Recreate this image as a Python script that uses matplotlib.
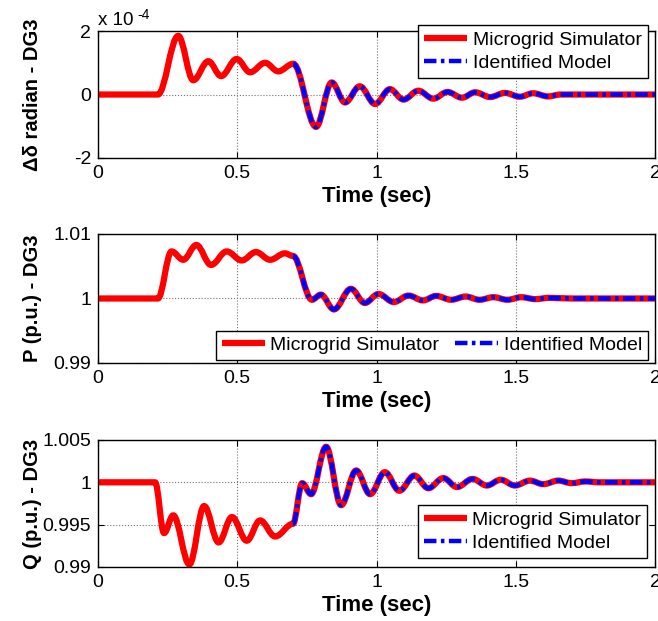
import matplotlib
matplotlib.use("Agg")
import matplotlib.pyplot as plt
from matplotlib.path import Path
from matplotlib.patches import PathPatch
from matplotlib.lines import Line2D
from matplotlib.ticker import FormatStrFormatter

plt.rcParams['font.family'] = ['Liberation Sans', 'DejaVu Sans']
plt.rcParams['axes.unicode_minus'] = False

# turning points of each response (time in s); curves pass through them with flat tangents
t_delta = [0, 0.215, 0.288, 0.342, 0.396, 0.442, 0.498, 0.546, 0.600, 0.647, 0.701,
           0.783, 0.839, 0.887, 0.940, 0.995, 1.048, 1.097, 1.150, 1.204, 1.255,
           1.307, 1.354, 1.408, 1.461, 1.515, 1.562, 1.616, 1.660, 2.0]
delta_e4 = [0, 0, 1.85, 0.45, 1.05, 0.58, 1.12, 0.70, 1.00, 0.73, 0.97,
            -1.02, 0.38, -0.25, 0.26, -0.30, 0.17, -0.16, 0.12, -0.13, 0.08,
            -0.10, 0.07, -0.08, 0.05, -0.07, 0.04, -0.06, 0, 0]

t_p = [0, 0.215, 0.264, 0.306, 0.353, 0.406, 0.462, 0.516, 0.567, 0.618, 0.671, 0.700,
       0.768, 0.800, 0.847, 0.908, 0.958, 1.007, 1.062, 1.115, 1.167, 1.214, 1.268,
       1.320, 1.370, 1.420, 1.470, 1.520, 1.570, 1.620, 1.700, 2.0]
p_pu = [1.0, 1.0, 1.0073, 1.0060, 1.0083, 1.0052, 1.0073, 1.0059, 1.0072, 1.0060, 1.0070, 1.0066,
        0.9998, 1.0006, 0.9983, 1.0015, 0.9993, 1.0007, 0.99945, 1.00045, 0.9997, 1.0004, 0.9998,
        1.0003, 0.9998, 1.0002, 0.9998, 1.0002, 0.9999, 1.0001, 1.0, 1.0]

t_q = [0, 0.205, 0.237, 0.270, 0.328, 0.381, 0.433, 0.481, 0.534, 0.582, 0.636, 0.700,
       0.733, 0.765, 0.819, 0.873, 0.927, 0.977, 1.030, 1.082, 1.136, 1.186, 1.240,
       1.289, 1.345, 1.396, 1.446, 1.497, 1.551, 1.599, 1.653, 1.700, 1.750, 1.800, 2.0]
q_pu = [1.0, 1.0, 0.9940, 0.9961, 0.9903, 0.9972, 0.9929, 0.9959, 0.9931, 0.9955, 0.9936, 0.9951,
        0.9999, 0.9986, 1.0042, 0.9973, 1.0014, 0.9986, 1.0012, 0.9990, 1.0008, 0.9993, 1.0005,
        0.99944, 1.0004, 0.99962, 1.0003, 0.99962, 1.0002, 0.99978, 1.0002, 0.9999, 1.0001, 1.0, 1.0]

model_start = 0.70  # identified model is fitted from here on

x_ticks = [0, 0.5, 1, 1.5, 2]
panels = [
    (t_delta, delta_e4, 'Δδ radian - DG3', (-2, 2), [-2, 0, 2]),
    (t_p, p_pu, 'P (p.u.) - DG3', (0.99, 1.01), [0.99, 1, 1.01]),
    (t_q, q_pu, 'Q (p.u.) - DG3', (0.99, 1.005), [0.99, 0.995, 1, 1.005]),
]
axes_rects = [
    [0.149, 0.7456, 0.8464, 0.2044],
    [0.149, 0.4155, 0.8464, 0.2077],
    [0.149, 0.0870, 0.8464, 0.2045],
]
legend_opts = [
    dict(loc='upper right', bbox_to_anchor=(0.987, 1.047), ncol=1),
    dict(loc='lower right', bbox_to_anchor=(0.987, 0.023), ncol=2),
    dict(loc='lower right', bbox_to_anchor=(0.986, 0.071), ncol=1),
]

red_style = dict(color='red', lw=4.5, solid_capstyle='butt')
blue_style = dict(color='blue', lw=3.2, linestyle=(0, (2.8, 1.0, 0.8, 1.0)))


def smooth_path(t, v, k=0.364):
    # cubic segments between turning points, horizontal tangent at each point
    verts = [(t[0], v[0])]
    codes = [Path.MOVETO]
    for i in range(len(t) - 1):
        dt = t[i + 1] - t[i]
        verts += [(t[i] + k * dt, v[i]), (t[i + 1] - k * dt, v[i + 1]), (t[i + 1], v[i + 1])]
        codes += [Path.CURVE4] * 3
    return Path(verts, codes)


fig = plt.figure(figsize=(6.58, 6.21), dpi=100)

for (t, v, ylab, ylim, yticks), rect, lopt in zip(panels, axes_rects, legend_opts):
    ax = fig.add_axes(rect)
    ax.add_patch(PathPatch(smooth_path(t, v), fill=False, edgecolor='red', lw=4.5,
                           joinstyle='round', zorder=2))
    i0 = next(i for i, ti in enumerate(t) if ti >= model_start)
    ax.add_patch(PathPatch(smooth_path(t[i0:], v[i0:]), fill=False, edgecolor='blue', lw=3.2,
                           linestyle=(0, (2.8, 1.0, 0.8, 1.0)), zorder=3))
    ax.set_xlim(0, 2)
    ax.set_ylim(*ylim)
    ax.set_xticks(x_ticks)
    ax.set_yticks(yticks)
    ax.xaxis.set_major_formatter(FormatStrFormatter('%g'))
    ax.yaxis.set_major_formatter(FormatStrFormatter('%g'))
    ax.tick_params(direction='in', top=True, right=True, length=4, labelsize=14)
    ax.tick_params(axis='x', pad=5)
    ax.tick_params(axis='y', pad=5)
    ax.grid(True, linestyle=':', color='0.45', lw=0.8)
    for s in ax.spines.values():
        s.set_linewidth(1.0)
    ax.set_xlabel('Time (sec)', fontsize=16, fontweight='bold', labelpad=3)
    ax.set_ylabel(ylab, fontsize=14.5, fontweight='bold')
    ax.yaxis.set_label_coords(-0.1, 0.5)

    handles = [Line2D([], [], **red_style), Line2D([], [], **blue_style)]
    leg = ax.legend(handles, ['Microgrid Simulator', 'Identified Model'], fontsize=14,
                    frameon=True, fancybox=False, framealpha=1, edgecolor='black',
                    borderaxespad=0, handlelength=2.2, handletextpad=0.3,
                    columnspacing=0.8, borderpad=0.3, labelspacing=0.3, **lopt)
    leg.get_frame().set_linewidth(1.0)
    leg.set_zorder(5)

    if ylim == (-2, 2):
        ax.text(0.0, 1.02, 'x 10', transform=ax.transAxes, fontsize=13.5,
                ha='left', va='bottom')
        ax.text(0.07, 1.075, '-4', transform=ax.transAxes, fontsize=10,
                ha='left', va='bottom')

fig.savefig('out.png', dpi=100)
